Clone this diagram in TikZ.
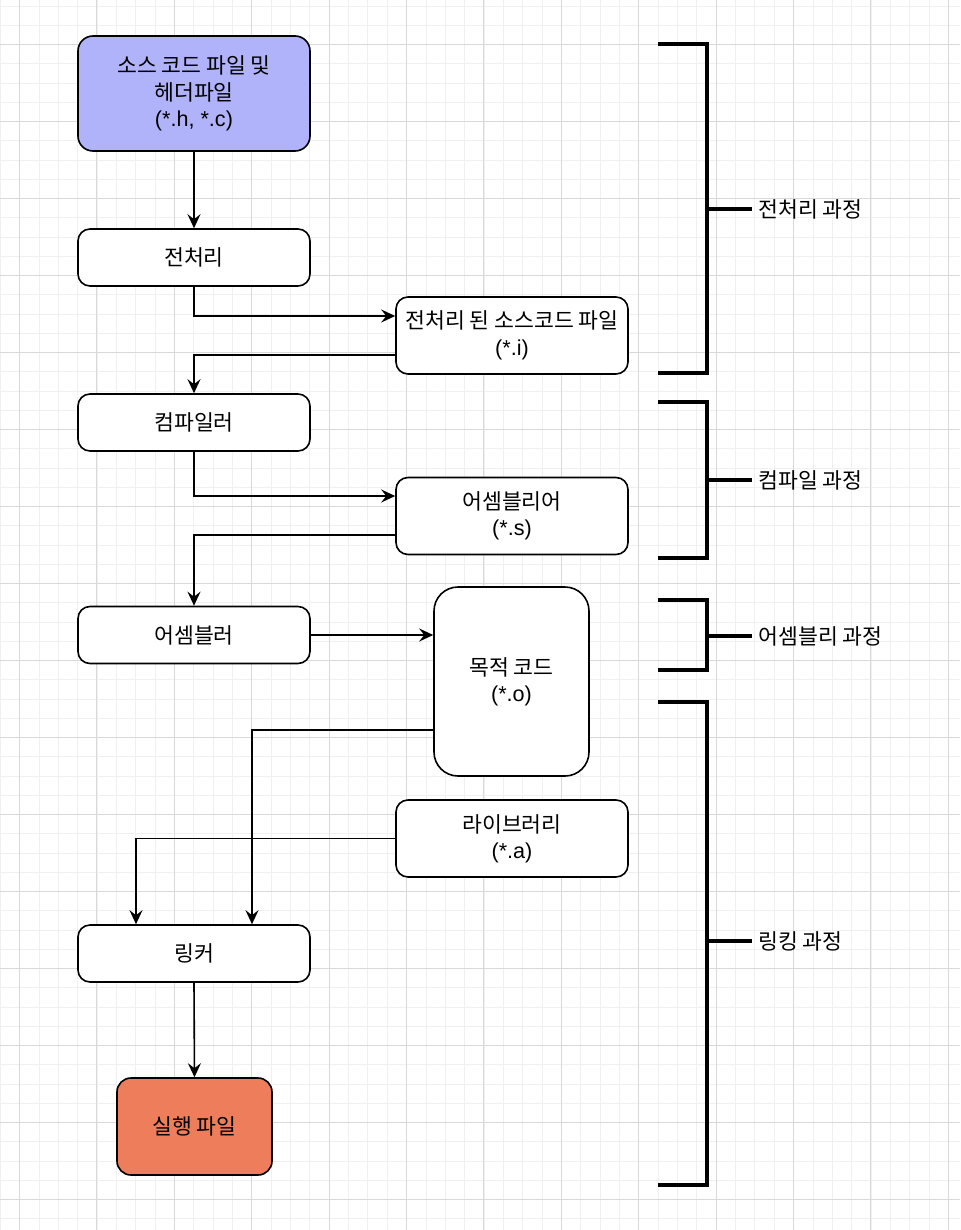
\documentclass[tikz,border=0pt]{standalone}
\usepackage{fontspec}
\setmainfont{Noto Sans CJK KR}
\newfontfamily\latinfont{Liberation Sans}
\usetikzlibrary{arrows.meta}

\definecolor{srcblue}{RGB}{176,178,250}
\definecolor{exeorange}{RGB}{238,125,92}

\begin{document}
\begin{tikzpicture}[
  x=0.5pt, y=-0.5pt,
  font=\fontsize{10.8}{13.2}\selectfont,
  >={Stealth[length=7pt,width=6.5pt,inset=2.5pt]},
  minorgrid/.style={draw=black!6,line width=0.4pt},
  majorgrid/.style={draw=black!15,line width=0.5pt},
  stepbox/.style={draw,line width=0.8pt,rounded corners=6pt,fill=white,
                  align=center,minimum width=116pt,minimum height=28.5pt,
                  inner sep=2pt},
  filebox/.style={stepbox,minimum height=38.5pt},
  srcbox/.style={stepbox,fill=srcblue,minimum height=57.5pt,rounded corners=7.5pt},
  objbox/.style={stepbox,minimum width=77.5pt,minimum height=94.5pt,rounded corners=12pt},
  exebox/.style={stepbox,fill=exeorange,minimum width=77.5pt,minimum height=48.5pt,rounded corners=7pt},
  flow/.style={->,line width=0.8pt},
  brk/.style={line width=1.8pt},
  phase/.style={anchor=west,inner sep=3pt},
]

% ---- canvas and grid ----
\fill[white] (0,0) rectangle (960,1230);
\useasboundingbox (0,0) rectangle (960,1230);
\foreach \k in {0,...,49} {
  \pgfmathsetmacro\gx{0.2+19.35*\k}
  \draw[minorgrid] (\gx,0) -- (\gx,1230);
}
\foreach \k in {0,...,63} {
  \pgfmathsetmacro\gy{6+19.25*\k}
  \draw[minorgrid] (0,\gy) -- (960,\gy);
}
\foreach \k in {0,...,12} {
  \pgfmathsetmacro\gx{19.5+77.4*\k}
  \draw[majorgrid] (\gx,0) -- (\gx,1230);
}
\foreach \k in {0,...,15} {
  \pgfmathsetmacro\gy{44.5+77*\k}
  \draw[majorgrid] (0,\gy) -- (960,\gy);
}

% ---- main column ----
\node[srcbox] (src) at (194,93.5) {소스 코드 파일 및\\헤더파일\\{\latinfont(*.h, *.c)}};
\node[stepbox] (pre)  at (194,257.5) {전처리};
\node[stepbox] (comp) at (194,422.5) {컴파일러};
\node[stepbox] (asmr) at (194,635) {어셈블러};
\node[stepbox] (link) at (194,953.5) {링커};
\node[exebox]  (exe)  at (194.5,1126.5) {실행 파일};

% ---- intermediate files ----
\node[filebox] (prei) at (512,335.5) {전처리 된 소스코드 파일\\{\latinfont(*.i)}};
\node[filebox] (asms) at (512,516) {어셈블리어\\{\latinfont(*.s)}};
\node[objbox]  (obj)  at (511.5,681.5) {목적 코드\\{\latinfont(*.o)}};
\node[filebox] (lib)  at (512,838.5) {라이브러리\\{\latinfont(*.a)}};

% ---- flow ----
\draw[flow] (src.south) -- (pre.north);
\draw[flow] (pre.south) |- ([yshift=9.75pt]prei.west);
\draw[flow] ([yshift=-9.75pt]prei.west) -| (comp.north);
\draw[flow] (comp.south) |- ([yshift=10pt]asms.west);
\draw[flow] ([yshift=-9.5pt]asms.west) -| (asmr.north);
\draw[flow] (asmr.east) -- (asmr.east -| obj.west);
\draw[flow] ([yshift=-24.25pt]obj.west) -| ([xshift=29pt]link.north);
\draw[flow] (lib.west) -| ([xshift=-29pt]link.north);
\draw[flow] (link.south) -- (exe.north);

% ---- phase brackets ----
\node[phase] (ppre)  at (752,209) {전처리 과정};
\node[phase] (pcomp) at (752,480) {컴파일 과정};
\node[phase] (pasm)  at (752,636) {어셈블리 과정};
\node[phase] (plink) at (752,941) {링킹 과정};

\draw[brk] (658,44) -- (707,44) -- (707,373) -- (658,373);
\draw[brk] (707,209) -- (ppre.west);
\draw[brk] (658,402) -- (707,402) -- (707,558) -- (658,558);
\draw[brk] (707,480) -- (pcomp.west);
\draw[brk] (658,600) -- (707,600) -- (707,670) -- (658,670);
\draw[brk] (707,636) -- (pasm.west);
\draw[brk] (658,702) -- (707,702) -- (707,1185) -- (658,1185);
\draw[brk] (707,941) -- (plink.west);

\end{tikzpicture}
\end{document}
